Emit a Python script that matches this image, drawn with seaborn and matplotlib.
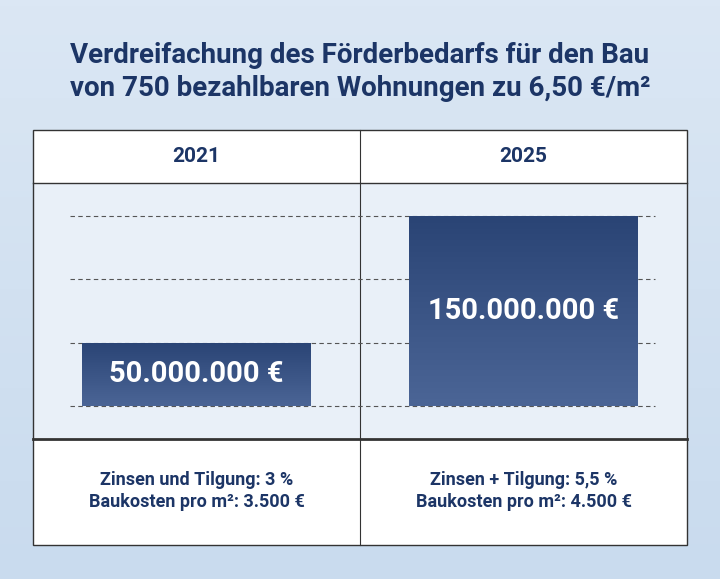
import numpy as np
import pandas as pd
import matplotlib
matplotlib.use("Agg")
import matplotlib.pyplot as plt
import seaborn as sb
from matplotlib.patches import Rectangle

years = ["2021", "2025"]
funding = [50, 150]  # Mio. EUR
bar_labels = ["50.000.000 €", "150.000.000 €"]
notes = ["Zinsen und Tilgung: 3 %\nBaukosten pro m²: 3.500 €",
         "Zinsen + Tilgung: 5,5 %\nBaukosten pro m²: 4.500 €"]
grid_values = [0, 50, 100, 150]
title = "Verdreifachung des Förderbedarfs für den Bau\nvon 750 bezahlbaren Wohnungen zu 6,50 €/m²"

navy = "#1c3566"
W, H = 720, 579
plt.rcParams["font.family"] = "Roboto"

fig = plt.figure(figsize=(7.2, 5.79), dpi=100)

# background in pixel coordinates
bg = fig.add_axes([0, 0, 1, 1])
bg.set_xlim(0, W); bg.set_ylim(H, 0); bg.axis("off")
grad = np.linspace(0, 1, 100).reshape(-1, 1)
bg.imshow(grad, extent=[0, W, H, 0], aspect="auto",
          cmap=matplotlib.colors.LinearSegmentedColormap.from_list("bg", ["#dbe7f4", "#c9dbee"]))
bg.add_patch(Rectangle((33, 130), 654, 53, fc="white", ec="none"))
bg.add_patch(Rectangle((33, 183), 654, 255, fc="#e9f0f8", ec="none"))
bg.add_patch(Rectangle((33, 438), 654, 107, fc="white", ec="none"))
bg.add_patch(Rectangle((33, 130), 654, 415, fc="none", ec="#333333", lw=1))
bg.plot([33, 687], [183, 183], color="#333333", lw=1)
bg.plot([33, 687], [439, 439], color="#333333", lw=2)
bg.plot([360, 360], [130, 545], color="#333333", lw=0.8)
bg.text(360, 72, title, ha="center", va="center", fontsize=20, fontweight="heavy",
        color=navy, linespacing=1.3)
for i, y in enumerate(years):
    cx = 196.5 + i * 327
    bg.text(cx, 157, y, ha="center", va="center", fontsize=15, fontweight="heavy", color=navy)
    bg.text(cx, 491, notes[i], ha="center", va="center", fontsize=13, fontweight="bold",
            color=navy, linespacing=1.35)

# bar chart
ax = fig.add_axes([33 / W, (H - 438) / H, 654 / W, 255 / H])
df = pd.DataFrame({"year": years, "funding": funding})
sb.barplot(data=df, x="year", y="funding", color="#36507f", width=0.7, ax=ax, zorder=2)
px = 190 / 150
ax.axis("off")
for v in grid_values:
    ax.axhline(v, xmin=(70 - 33) / 654, xmax=(655 - 33) / 654, color="#555555",
               lw=0.8, ls=(0, (4, 3)), zorder=1)
cmap = matplotlib.colors.LinearSegmentedColormap.from_list("bar", ["#4b6596", "#2a4475"])
for patch, lab in zip(ax.patches, bar_labels):
    x0, w, h = patch.get_x(), patch.get_width(), patch.get_height()
    patch.set_alpha(0)
    im = ax.imshow(np.linspace(0, 1, 100).reshape(-1, 1), extent=[x0, x0 + w, 0, h],
                   origin="lower", aspect="auto", cmap=cmap, zorder=3)
    im.set_clip_path(patch)
    ax.text(x0 + w / 2, h / 2, lab, ha="center", va="center",
            fontsize=21, fontweight="heavy", color="white", zorder=4)
ax.set_xlim(-0.5, 1.5)
ax.set_ylim(-32 / px, (406 - 183) / px)

fig.savefig("out.png", dpi=100)
